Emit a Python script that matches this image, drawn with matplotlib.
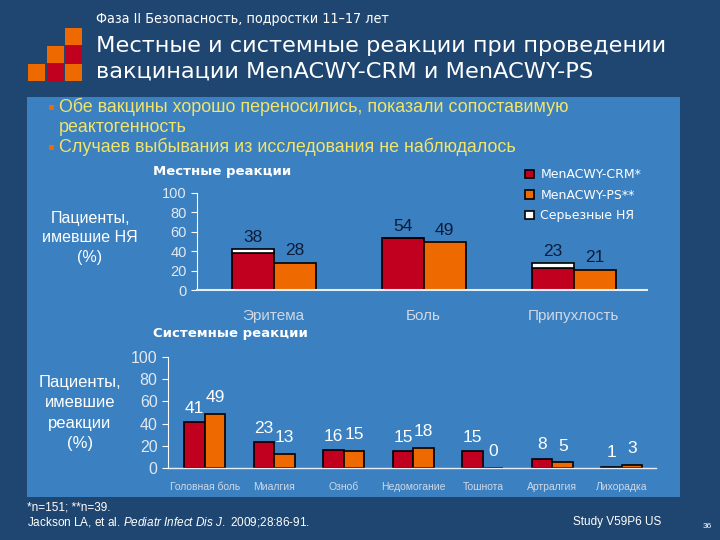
import matplotlib
matplotlib.use("Agg")
import matplotlib.pyplot as plt
from matplotlib.patches import Rectangle

# Data
local_cats = ["Эритема", "Боль", "Припухлость"]
local_crm = [38, 54, 23]
local_ps = [28, 49, 21]
local_serious = [4, 0, 5]

sys_cats = ["Головная боль", "Миалгия", "Озноб", "Недомогание",
            "Тошнота", "Артралгия", "Лихорадка"]
sys_crm = [41, 23, 16, 15, 15, 8, 1]
sys_ps = [49, 13, 15, 18, 0, 5, 3]

yticks = [0, 20, 40, 60, 80, 100]

RED = "#c1001f"
ORANGE = "#ee6a00"
BG = "#1f4670"
PANEL = "#3b80c0"
TICKCOL = "#e2e8f2"

plt.rcParams['font.family'] = ['Liberation Sans', 'DejaVu Sans']
plt.rcParams['mathtext.fontset'] = 'custom'
plt.rcParams['mathtext.it'] = 'Liberation Sans:italic'
plt.rcParams['mathtext.rm'] = 'Liberation Sans'

fig = plt.figure(figsize=(7.2, 5.4), dpi=100)
fig.patch.set_facecolor(BG)

def fx(px):
    return px / 720.0

def fy(py):
    return 1 - py / 540.0

# blue panel
fig.patches.append(Rectangle((fx(27), fy(497)), fx(680) - fx(27), fy(97) - fy(497),
                             transform=fig.transFigure, facecolor=PANEL,
                             edgecolor="none", zorder=-5))

# logo squares
sq = 17
logo = [(65, 28, ORANGE), (47, 46, ORANGE), (65, 46, RED),
        (28, 64, ORANGE), (47, 64, RED), (65, 64, ORANGE)]
for x, y, c in logo:
    fig.patches.append(Rectangle((fx(x), fy(y + sq)), fx(sq), sq / 540.0,
                                 transform=fig.transFigure, facecolor=c,
                                 edgecolor="none", zorder=-4))

# titles
fig.text(fx(96), fy(19), "Фаза II Безопасность, подростки 11–17 лет",
         color="white", fontsize=10.3, va="center", family=['DejaVu Sans'],
         stretch="condensed")
fig.text(fx(96), fy(46), "Местные и системные реакции при проведении",
         color="white", fontsize=16.2, va="center", family=['DejaVu Sans'])
fig.text(fx(96), fy(72), "вакцинации MenACWY-CRM и MenACWY-PS",
         color="white", fontsize=16.2, va="center", family=['DejaVu Sans'])

# bullets
YEL = "#f2e46a"
for ypx, txt, bullet in [(107, "Обе вакцины хорошо переносились, показали сопоставимую", True),
                         (127, "реактогенность", False),
                         (147, "Случаев выбывания из исследования не наблюдалось", True)]:
    if bullet:
        fig.patches.append(Rectangle((fx(49), fy(ypx + 3)), fx(5), 5 / 540.0,
                                     transform=fig.transFigure,
                                     facecolor=ORANGE, edgecolor="none",
                                     zorder=-4))
    fig.text(fx(59), fy(ypx), txt, color=YEL, fontsize=12.9, va="center")

def style_axes(ax):
    ax.set_facecolor("none")
    ax.set_zorder(2)
    for s in ["top", "right"]:
        ax.spines[s].set_visible(False)
    ax.spines["left"].set_color("white")
    ax.spines["bottom"].set_color("#e8eef6")
    ax.spines["bottom"].set_linewidth(1.5)
    ax.set_ylim(0, 100)
    ax.set_yticks(yticks)
    ax.tick_params(axis="y", colors="white", labelcolor=TICKCOL, length=4,
                   labelsize=10.5)
    ax.tick_params(axis="x", length=0, labelcolor="#d0d8e6")

# local reactions chart
ax1 = fig.add_axes([fx(197), fy(290), fx(647) - fx(197), fy(193) - fy(290)])
style_axes(ax1)
w = 0.28
x1 = list(range(len(local_cats)))
b1 = ax1.bar([i - w / 2 for i in x1], local_crm, w, color=RED,
             edgecolor="black", linewidth=1.2, label="MenACWY-CRM*")
b2 = ax1.bar([i + w / 2 for i in x1], local_ps, w, color=ORANGE,
             edgecolor="black", linewidth=1.2, label="MenACWY-PS**")
b3 = ax1.bar([i - w / 2 for i in x1], local_serious, w, bottom=local_crm,
             color="white", edgecolor="black", linewidth=1.2,
             label="Серьезные НЯ")
for i in x1:
    ax1.text(i - w / 2, local_crm[i] + local_serious[i] + 4, str(local_crm[i]),
             ha="center", va="bottom", fontsize=12.5, color="#0c1c3c")
    ax1.text(i + w / 2, local_ps[i] + 5, str(local_ps[i]),
             ha="center", va="bottom", fontsize=12.5, color="#0c1c3c")
ax1.set_xlim(-0.51, 2.49)
ax1.set_xticks(x1)
ax1.set_xticklabels(local_cats, fontsize=11)
ax1.tick_params(axis="x", pad=14)

fig.text(fx(153), fy(172), "Местные реакции", color="white", fontsize=9.5,
         fontweight="bold", va="center", family=['DejaVu Sans'])
fig.text(fx(90), fy(238), "Пациенты,\nимевшие НЯ\n(%)", color="white",
         fontsize=11.5, ha="center", va="center", linespacing=1.35)

leg = fig.legend(handles=[b1, b2, b3], loc="upper left",
                 bbox_to_anchor=(fx(514), fy(157)), frameon=False,
                 labelcolor="white", handlelength=0.7,
                 handleheight=0.7, handletextpad=0.5, labelspacing=0.6,
                 prop={'family': ['DejaVu Sans'], 'size': 9})

# systemic reactions chart
ax2 = fig.add_axes([fx(168), fy(468), fx(656) - fx(168), fy(357) - fy(468)])
style_axes(ax2)
ax2.spines["bottom"].set_linewidth(1)
w2 = 0.295
x2 = list(range(len(sys_cats)))
ax2.bar([i - w2 / 2 for i in x2], sys_crm, w2, color=RED,
        edgecolor="black", linewidth=1.2)
ax2.bar([i + w2 / 2 for i in x2], sys_ps, w2, color=ORANGE,
        edgecolor="black", linewidth=1.2)
for i in x2:
    ax2.text(i - w2 / 2, sys_crm[i] + 6, str(sys_crm[i]), ha="center",
             va="bottom", fontsize=12.5, color="white")
    ax2.text(i + w2 / 2, sys_ps[i] + 8, str(sys_ps[i]), ha="center",
             va="bottom", fontsize=12.5, color="white")
ax2.set_xlim(-0.53, 6.49)
ax2.set_xticks(x2)
ax2.set_xticklabels(sys_cats, fontsize=7.5)
ax2.tick_params(axis="x", pad=10)
ax2.tick_params(axis="y", labelsize=11.5)

fig.text(fx(153), fy(333), "Системные реакции", color="white", fontsize=9.5,
         fontweight="bold", va="center", family=['DejaVu Sans'])
fig.text(fx(80), fy(413), "Пациенты,\nимевшие\nреакции\n(%)", color="white",
         fontsize=12, ha="center", va="center", linespacing=1.45)

# footer
fig.text(fx(27), fy(508), "*n=151; **n=39.", color="white", fontsize=8.5,
         va="center")
fig.text(fx(27), fy(522), "Jackson LA, et al. $\\it{Pediatr\\ Infect\\ Dis\\ J.}$ 2009;28:86-91.",
         color="white", fontsize=8.5, va="center")
fig.text(fx(661), fy(522), "Study V59P6 US", color="white", fontsize=8.5,
         ha="right", va="center")
fig.text(fx(712), fy(527), "36", color="white", fontsize=6, ha="right",
         va="center")

fig.savefig("out.png", dpi=100, facecolor=fig.get_facecolor())
